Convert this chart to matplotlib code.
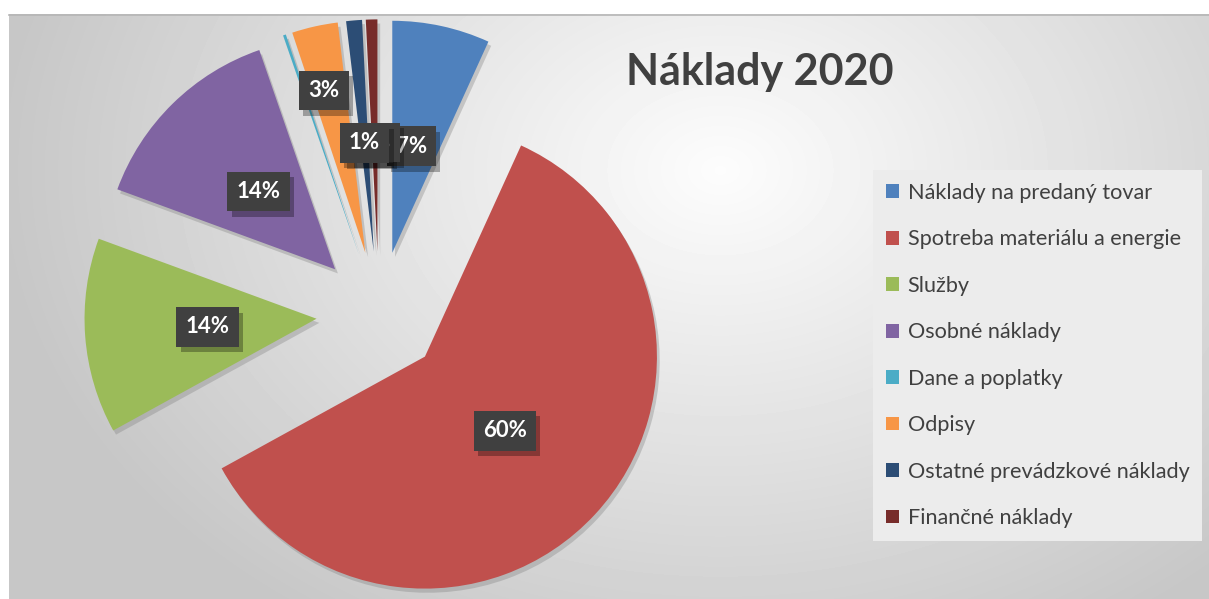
import numpy as np
import matplotlib
matplotlib.use('Agg')
import matplotlib.pyplot as plt
import matplotlib.patheffects as pe
from matplotlib.patches import Rectangle
from matplotlib.transforms import offset_copy

plt.rcParams['font.family'] = ['Lato', 'DejaVu Sans']

# data
categories = ['Náklady na predaný tovar', 'Spotreba materiálu a energie', 'Služby',
              'Osobné náklady', 'Dane a poplatky', 'Odpisy',
              'Ostatné prevádzkové náklady', 'Finančné náklady']
shares = [6.8, 60.2, 13.6, 14.1, 0.2, 3.2, 1.1, 0.8]
colors = ['#4f81bd', '#c0504d', '#9bbb59', '#8064a2', '#4bacc6', '#f79646', '#2c4d75', '#772c2a']
label_dist = [0.47, 0.47, 0.47, 0.47, 0.47, 0.70, 0.47, 0.47]
# extra label shift in pixels, +y is up (Dane label sits hidden under the 1% boxes)
label_shift = [(-4, 0), (0, 0), (0, 0), (0, 0), (44, 8), (-6, 4), (0, 0), (0, 0)]
label_order = [0, 4, 5, 7, 6, 1, 2, 3]

W, H = 1209, 599
fig = plt.figure(figsize=(W / 100, H / 100), dpi=100)

# background with radial gradient
bg = fig.add_axes([0, 0, 1, 1])
bg.set_xlim(0, W)
bg.set_ylim(H, 0)
bg.axis('off')
xx, yy = np.meshgrid(np.arange(9, W), np.arange(14, H))
d = np.sqrt(((xx - 720) / 600.0) ** 2 + ((yy - 170) / 450.0) ** 2)
v = 0.99 - 0.21 * np.clip(d, 0, 1.2) / 1.2
bg.imshow(v, cmap='gray', vmin=0, vmax=1, extent=(9, W, H, 14), aspect='auto')
bg.plot([9, W], [14.5, 14.5], color='#b5b5b5', lw=1.2)

# pie (center at pixel 379,314, radius 232 px)
R = 232.0
cx, cy = 379.0, 314.0
ax = fig.add_axes([0, 0, 1, 1])
ax.patch.set_alpha(0)
wedges, _ = ax.pie(shares, colors=colors, startangle=90, counterclock=False,
                   explode=[0.27] * len(shares), radius=1.0,
                   wedgeprops=dict(linewidth=0))
for w in wedges:
    w.set_path_effects([pe.SimplePatchShadow(offset=(2, -3), shadow_rgbFace='#808080', alpha=0.35),
                        pe.Normal()])
ax.set_xlim(-cx / R, (W - cx) / R)
ax.set_ylim(-(H - cy) / R, cy / R)
ax.set_aspect('equal')
ax.axis('off')

total = sum(shares)
for i in label_order:
    w = wedges[i]
    ang = np.deg2rad((w.theta1 + w.theta2) / 2)
    x = w.center[0] + label_dist[i] * np.cos(ang)
    y = w.center[1] + label_dist[i] * np.sin(ang)
    txt = '%d%%' % round(shares[i] / total * 100)
    tr = offset_copy(ax.transData, fig=fig, x=label_shift[i][0], y=label_shift[i][1], units='dots')
    t = ax.text(x, y, txt, transform=tr, ha='center', va='center', fontsize=16,
                fontweight='bold', color='white',
                bbox=dict(boxstyle='square,pad=0.42', fc='#404040', ec='none'))
    t.get_bbox_patch().set_path_effects(
        [pe.SimplePatchShadow(offset=(3, -4), shadow_rgbFace='black', alpha=0.3), pe.Normal()])

# title
fig.text(760 / W, 1 - 72 / H, 'Náklady 2020', ha='center', va='center',
         fontsize=31, fontweight='bold', color='#404040')

# legend
handles = [Rectangle((0, 0), 1, 1, fc=c, ec='none') for c in colors]
leg = fig.legend(handles, categories, loc='upper left',
                 bbox_to_anchor=(873 / W, 1 - 170 / H), frameon=True,
                 fontsize=15.6, labelspacing=1.22, handlelength=0.6, handleheight=0.6,
                 handletextpad=0.4, borderpad=0.6, borderaxespad=0,
                 fancybox=False, labelcolor='#404040')
leg.get_frame().set_facecolor('#ececec')
leg.get_frame().set_edgecolor('none')
leg.get_frame().set_alpha(1)

fig.savefig('out.png', dpi=100)
